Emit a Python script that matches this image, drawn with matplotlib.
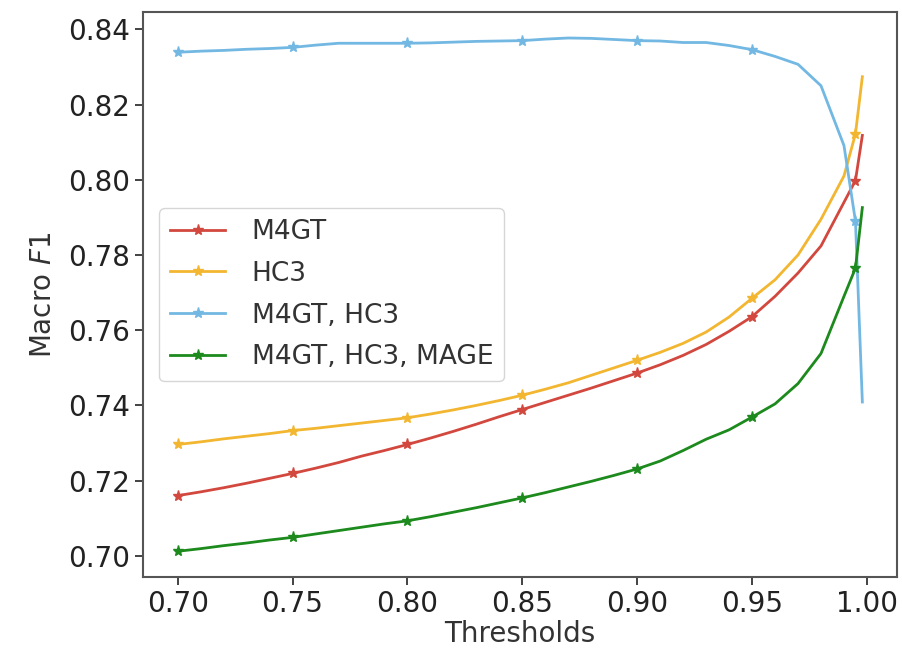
import matplotlib
matplotlib.use("Agg")
import matplotlib.pyplot as plt

thresholds = [0.70, 0.71, 0.72, 0.73, 0.74, 0.75, 0.76, 0.77, 0.78, 0.79,
              0.80, 0.81, 0.82, 0.83, 0.84, 0.85, 0.86, 0.87, 0.88, 0.89,
              0.90, 0.91, 0.92, 0.93, 0.94, 0.95, 0.96, 0.97, 0.98, 0.99,
              0.995, 0.998]

m4gt = [0.7160, 0.7170, 0.7181, 0.7193, 0.7206, 0.7219, 0.7233, 0.7248, 0.7265, 0.7280,
        0.7296, 0.7313, 0.7331, 0.7350, 0.7370, 0.7389, 0.7408, 0.7427, 0.7446, 0.7466,
        0.7486, 0.7508, 0.7533, 0.7562, 0.7597, 0.7636, 0.7690, 0.7752, 0.7824, 0.7940,
        0.7998, 0.8118]

hc3 = [0.7296, 0.7303, 0.7311, 0.7318, 0.7325, 0.7333, 0.7339, 0.7346, 0.7353, 0.7360,
       0.7367, 0.7377, 0.7388, 0.7400, 0.7413, 0.7427, 0.7443, 0.7460, 0.7480, 0.7500,
       0.7520, 0.7541, 0.7565, 0.7595, 0.7635, 0.7685, 0.7734, 0.7800, 0.7895, 0.8010,
       0.8122, 0.8274]

m4gt_hc3 = [0.8339, 0.8342, 0.8344, 0.8347, 0.8349, 0.8352, 0.8358, 0.8363, 0.8363, 0.8363,
            0.8363, 0.8364, 0.8366, 0.8368, 0.8369, 0.8370, 0.8374, 0.8377, 0.8376, 0.8373,
            0.8370, 0.8369, 0.8365, 0.8365, 0.8357, 0.8346, 0.8328, 0.8307, 0.8250, 0.8091,
            0.7890, 0.7409]

m4gt_hc3_mage = [0.7012, 0.7019, 0.7027, 0.7034, 0.7042, 0.7049, 0.7058, 0.7067, 0.7076, 0.7085,
                 0.7093, 0.7104, 0.7116, 0.7128, 0.7141, 0.7154, 0.7168, 0.7183, 0.7198, 0.7214,
                 0.7231, 0.7252, 0.7280, 0.7310, 0.7335, 0.7369, 0.7404, 0.7458, 0.7538, 0.7690,
                 0.7765, 0.7926]

labels = ["M4GT", "HC3", "M4GT, HC3", "M4GT, HC3, MAGE"]
colors = ["#d2483e", "#f2b630", "#72b8e2", "#1c8a1c"]

fig = plt.figure(figsize=(9.02, 6.49), dpi=100)
ax = fig.add_axes([0.159, 0.111, 0.835, 0.87])

for ys, lab, col in zip([m4gt, hc3, m4gt_hc3, m4gt_hc3_mage], labels, colors):
    ax.plot(thresholds, ys, color=col, label=lab, marker="*", markersize=8,
            markevery=5, linewidth=2)

ax.set_xticks([0.70, 0.75, 0.80, 0.85, 0.90, 0.95, 1.00])
ax.set_yticks([0.70, 0.72, 0.74, 0.76, 0.78, 0.80, 0.82, 0.84])
ax.xaxis.set_major_formatter(matplotlib.ticker.FormatStrFormatter("%.2f"))
ax.yaxis.set_major_formatter(matplotlib.ticker.FormatStrFormatter("%.2f"))
ax.tick_params(labelsize=20, length=6, width=1.2, colors="#222222")
ax.set_xlabel("Thresholds", fontsize=20, labelpad=1, color="#333333")
ax.set_ylabel("Macro $F1$", fontsize=20, labelpad=8, color="#333333")
leg = ax.legend(loc="center left", fontsize=19, borderaxespad=0.6,
                handlelength=2.1, handletextpad=1.0, labelspacing=0.6)
for t in leg.get_texts():
    t.set_color("#333333")
for s in ax.spines.values():
    s.set_color("#555555")
    s.set_linewidth(1.5)

fig.savefig("out.png", dpi=100)
